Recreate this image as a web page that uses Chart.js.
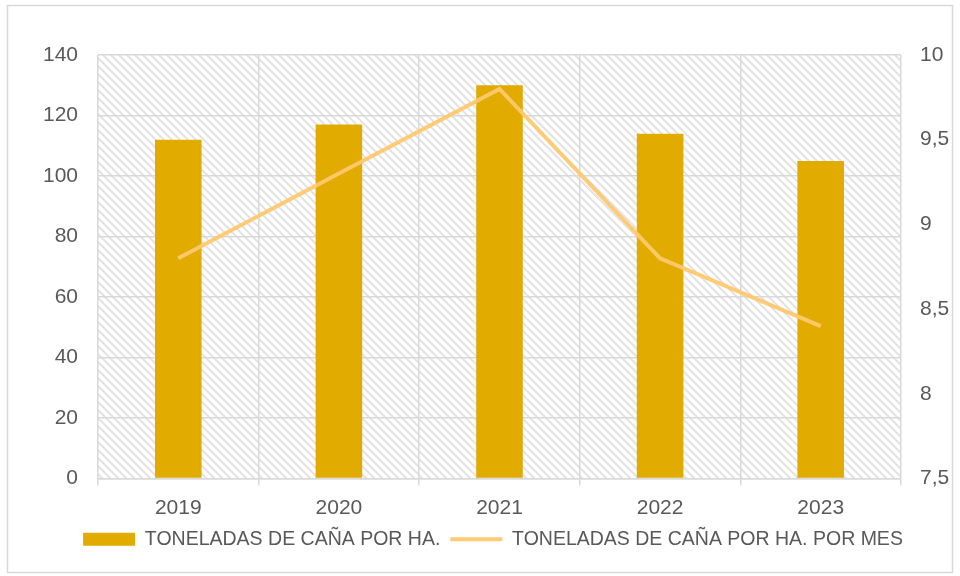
<!DOCTYPE html>
<html><head><meta charset="utf-8">
<script src="https://cdn.jsdelivr.net/npm/chart.js@4.4.1/dist/chart.umd.min.js"></script>
<style>html,body{margin:0;padding:0;background:#fff}#wrap{width:960px;height:576px}</style>
</head><body><div id="wrap"><canvas id="c" width="960" height="576"></canvas></div>
<script>
const categories = ['2019','2020','2021','2022','2023'];
const toneladasPorHa = [112, 117, 130, 114, 105];
const toneladasPorHaMes = [8.8, 9.3, 9.8, 8.8, 8.4];
const seriesNames = ['TONELADAS DE CAÑA POR HA.', 'TONELADAS DE CAÑA POR HA. POR MES'];

const FONT = "'Liberation Sans', Arial, sans-serif";
const TXT = '#595959';
const GRID = '#d9d9d9';

function makePattern(ctx){
  const p = document.createElement('canvas');
  p.width = 8; p.height = 8;
  const g = p.getContext('2d');
  g.fillStyle = '#ffffff'; g.fillRect(0,0,8,8);
  g.strokeStyle = '#e3e3e3'; g.lineWidth = 2;
  g.beginPath();
  g.moveTo(-2,-2); g.lineTo(10,10);
  g.moveTo(-10,-2); g.lineTo(2,10);
  g.moveTo(6,-2); g.lineTo(18,10);
  g.stroke();
  return ctx.createPattern(p,'repeat');
}

const bgPlugin = {
  id:'bg',
  beforeDraw(chart){
    const {ctx, chartArea:a} = chart;
    ctx.save();
    ctx.fillStyle = '#fff'; ctx.fillRect(0,0,chart.width,chart.height);
    ctx.fillStyle = makePattern(ctx);
    ctx.fillRect(a.left,a.top,a.right-a.left,a.bottom-a.top);
    ctx.strokeStyle = GRID; ctx.lineWidth = 1.5;
    ctx.strokeRect(7.5,5.5,945,567);
    ctx.restore();
  }
};

new Chart(document.getElementById('c'), {
  data:{
    labels: categories,
    datasets:[
      {type:'line', label:seriesNames[1], data:toneladasPorHaMes, yAxisID:'y2',
       borderColor:'rgba(255,200,110,0.95)', backgroundColor:'rgba(255,200,110,0.95)', borderWidth:4,
       pointRadius:0, tension:0, order:0},
      {type:'bar', label:seriesNames[0], data:toneladasPorHa, yAxisID:'y',
       backgroundColor:'#E1AB00', barPercentage:0.29, categoryPercentage:1, order:1}
    ]
  },
  options:{
    responsive:false, animation:false,
    layout:{padding:{top:55,left:26,right:0,bottom:17}},
    plugins:{
      tooltip:{enabled:false},
      legend:{position:'bottom', reverse:true,
        labels:{font:{family:FONT,size:19.5}, color:TXT, usePointStyle:true, pointStyleWidth:52,
          boxWidth:52, boxHeight:13, padding:10,
          generateLabels(chart){
            return chart.data.datasets.map((d,i)=>({
              text:d.label, datasetIndex:i,
              fillStyle:d.type==='bar'?d.backgroundColor:'transparent',
              strokeStyle:d.type==='bar'?d.backgroundColor:d.borderColor,
              lineWidth:d.type==='bar'?0:4,
              pointStyle:d.type==='bar'?'rect':'line',
              fontColor:TXT, hidden:false
            }));
          }}}
    },
    scales:{
      x:{offset:true, grid:{offset:true, color:GRID, lineWidth:1.5, tickLength:7, drawOnChartArea:true},
         border:{color:GRID, width:1.5},
         ticks:{font:{family:FONT,size:21}, color:TXT, padding:10},
         afterFit(s){s.height=41;}},
      y:{position:'left', min:0, max:140, ticks:{stepSize:20, font:{family:FONT,size:21}, color:TXT, padding:20},
         grid:{color:GRID, lineWidth:1.5, drawTicks:false}, border:{display:false},
         afterFit(s){s.width=72;}},
      y2:{position:'right', min:7.5, max:10, ticks:{stepSize:0.5, font:{family:FONT,size:21}, color:TXT, padding:19,
           callback:v=>String(v).replace('.',',')},
         grid:{drawOnChartArea:false, drawTicks:false}, border:{display:false},
         afterFit(s){s.width=59;}}
    }
  },
  plugins:[bgPlugin]
});
</script></body></html>
